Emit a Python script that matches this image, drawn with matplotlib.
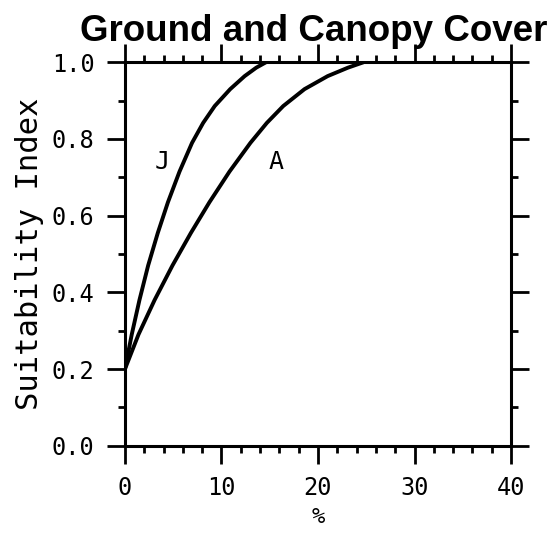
import matplotlib
matplotlib.use("Agg")
import matplotlib.pyplot as plt
from matplotlib.ticker import MultipleLocator

# curve values
j_cover = [0, 0.7, 1.5, 2.4, 3.4, 4.45, 5.65, 6.95, 8.1, 9.3, 10.9, 12.4, 13.6, 14.6]
j_si = [0.2, 0.29, 0.38, 0.47, 0.555, 0.635, 0.715, 0.79, 0.842, 0.886, 0.93, 0.964, 0.986, 1.0]
a_cover = [0, 1.4, 3.07, 4.92, 6.83, 8.75, 10.83, 13.0, 14.7, 16.4, 18.6, 21.0, 23.1, 24.7]
a_si = [0.2, 0.29, 0.38, 0.47, 0.555, 0.635, 0.715, 0.79, 0.842, 0.886, 0.93, 0.964, 0.986, 1.0]

x_ticks = [0, 10, 20, 30, 40]
y_ticks = [0.0, 0.2, 0.4, 0.6, 0.8, 1.0]

mono = "DejaVu Sans Mono"

fig = plt.figure(figsize=(5.54, 5.34), dpi=100)
ax = fig.add_axes([0.2256, 0.1654, 0.6968, 0.7179])

ax.plot(j_cover, j_si, color="black", lw=2.8, solid_capstyle="round", solid_joinstyle="round")
ax.plot(a_cover, a_si, color="black", lw=2.8, solid_capstyle="round", solid_joinstyle="round")

ax.text(3.8, 0.74, "J", fontsize=18, family=mono, ha="center", va="center")
ax.text(15.7, 0.74, "A", fontsize=18, family=mono, ha="center", va="center")

ax.set_xlim(0, 40)
ax.set_ylim(0, 1.0)
ax.set_xticks(x_ticks)
ax.set_yticks(y_ticks)
ax.set_xticklabels([str(v) for v in x_ticks], family=mono, fontsize=17)
ax.set_yticklabels(["%.1f" % v for v in y_ticks], family=mono, fontsize=17)
ax.xaxis.set_minor_locator(MultipleLocator(2))
ax.yaxis.set_minor_locator(MultipleLocator(0.1))

ax.tick_params(which="both", direction="out", top=True, right=True, width=2)
ax.tick_params(which="major", length=13, pad=9)
ax.tick_params(which="minor", length=5)
for sp in ax.spines.values():
    sp.set_linewidth(2.2)

ax.set_ylabel("Suitability Index", family=mono, fontsize=22)
ax.yaxis.set_label_coords(-0.21, 0.5)
ax.set_xlabel("%", family=mono, fontsize=16)
ax.xaxis.set_label_coords(0.5, -0.16)

fig.text(0.567, 0.923, "Ground and Canopy Cover", family="Liberation Sans",
         fontweight="bold", fontsize=26.5, ha="center", va="baseline")

fig.savefig("out.png", dpi=100)
